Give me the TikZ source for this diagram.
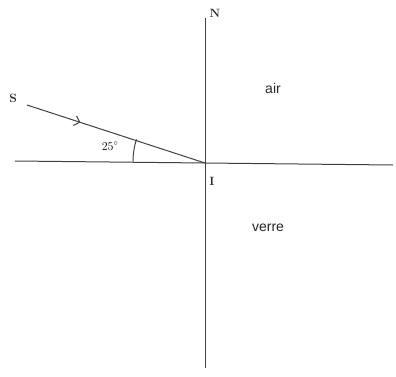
\documentclass[tikz,border=0pt]{standalone}
\usepackage{fontspec}
\newfontfamily\labelsans{Liberation Sans}
\usetikzlibrary{arrows.meta,decorations.markings}
\tikzset{
  ray/.style={line width=1pt,draw=black!75},
  midarrow/.style={postaction={decorate},decoration={markings,
    mark=at position 0.3 with {\arrow{Straight Barb[length=5pt,width=10pt,line width=1pt]}}}},
  medium/.style={font=\labelsans\fontsize{14}{16}\selectfont,text=black!85},
  pointlbl/.style={font=\fontsize{12}{14}\selectfont\bfseries,text=black!85}
}
\begin{document}
\begin{tikzpicture}[x=1pt,y=-1pt]
  \useasboundingbox (0,0) rectangle (396,376);
  % dioptre and normal
  \coordinate (I) at (205,163);
  \coordinate (W) at (15,161);
  \coordinate (E) at (393,165);
  \coordinate (Ntop) at (205,18);
  \coordinate (Nbot) at (205,368);
  \coordinate (S) at (27,105);
  \draw[ray] (W) -- (I) -- (E);
  \draw[ray] (Ntop) -- (Nbot);
  % incident ray
  \draw[ray,midarrow] (S) -- (I);
  \draw[ray] (133,161.5) arc[start angle=180,end angle=198,radius=72];
  \node[font=\fontsize{12}{14}\selectfont] (ang) at (110,146) {$25^\circ$};
  \node[pointlbl] (lS) at (13,98) {S};
  \node[pointlbl] (lN) at (215,13) {N};
  \node[pointlbl] (lI) at (212,181) {I};
  \node[medium] (air) at (273,88) {air};
  \node[medium] (verre) at (268,228) {verre};
\end{tikzpicture}
\end{document}
